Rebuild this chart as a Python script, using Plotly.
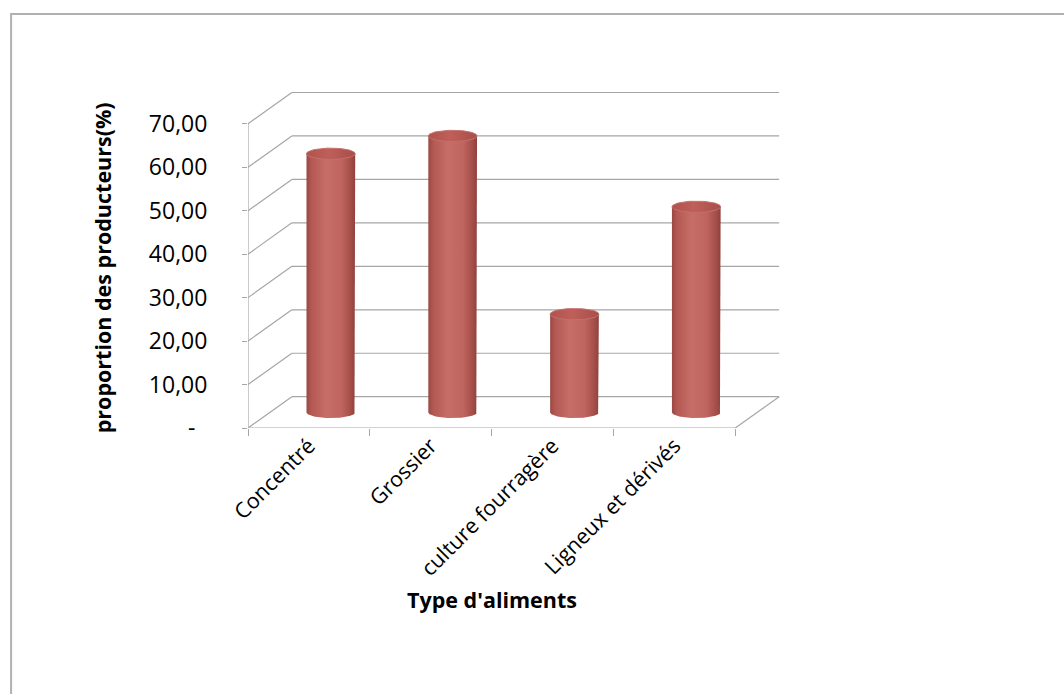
import numpy as np
import plotly.graph_objects as go

# Data
categories = ["Concentré", "Grossier", "culture fourragère", "Ligneux et dérivés"]
proportions = [59.5, 63.6, 22.6, 47.3]
y_ticks = [0, 10, 20, 30, 40, 50, 60, 70]
y_tick_labels = ["-\u00a0\u00a0", "10,00", "20,00", "30,00", "40,00", "50,00", "60,00", "70,00"]

# 3D-look geometry (axis units)
DX = 0.36      # depth shift along the category axis
DY = 7.2       # depth shift along the value axis
HALF_W = 0.2   # cylinder radius (category units)
RY = 1.3       # vertical semi-axis of the elliptical caps (value units)

FONT = "Open Sans"
GRID = dict(color="#a6a6a6", width=1.2)

shapes = []
# back wall gridlines and side wall lines
for v in y_ticks:
    shapes.append(dict(type="line", xref="x", yref="y", x0=-0.5 + DX, x1=3.5 + DX,
                       y0=v + DY, y1=v + DY, line=GRID, layer="below"))
    shapes.append(dict(type="line", xref="x", yref="y", x0=-0.5, x1=-0.5 + DX,
                       y0=v, y1=v + DY, line=GRID, layer="below"))
# floor right edge, front floor edge, front vertical edge
shapes.append(dict(type="line", xref="x", yref="y", x0=3.5, x1=3.5 + DX, y0=0, y1=DY,
                   line=GRID, layer="below"))
shapes.append(dict(type="line", xref="x", yref="y", x0=-0.5, x1=3.5, y0=0, y1=0,
                   line=GRID, layer="below"))
shapes.append(dict(type="line", xref="x", yref="y", x0=-0.5, x1=-0.5, y0=0, y1=70,
                   line=GRID, layer="below"))
# outer chart frame
shapes.append(dict(type="rect", xref="paper", yref="paper", x0=-0.442, x1=2.5, y0=-3, y1=1.221,
                   line=dict(color="#b0b0b0", width=2), layer="below"))

fig = go.Figure()

body_scale = [[0.0, "#9a4844"], [0.1, "#b35853"], [0.4, "#c76e69"],
              [0.72, "#bf645f"], [0.9, "#a64f4a"], [1.0, "#8f413d"]]
top_scale = [[0.0, "#b0524d"], [0.45, "#bf5f5a"], [1.0, "#a84e49"]]

t_front = np.linspace(0, np.pi, 40)
t_full = np.linspace(0, 2 * np.pi, 80)

for i, (cat, val) in enumerate(zip(categories, proportions)):
    cx = i + DX / 2
    yb = DY / 2
    yt = yb + val
    # cylinder body: straight sides plus front half of the base ellipse
    bx = [cx - HALF_W, cx - HALF_W, cx + HALF_W] + list(cx + HALF_W * np.cos(t_front))
    by = [yb, yt, yt] + list(yb - RY * np.sin(t_front))
    fig.add_trace(go.Scatter(
        x=bx, y=by, mode="lines", fill="toself", line=dict(width=0),
        fillgradient=dict(type="horizontal", colorscale=body_scale),
        name=cat, showlegend=False, hoverinfo="skip"))
    # top cap
    fig.add_trace(go.Scatter(
        x=list(cx + HALF_W * np.cos(t_full)), y=list(yt + RY * np.sin(t_full)),
        mode="lines", fill="toself", line=dict(width=1, color="#c4706b"),
        fillgradient=dict(type="horizontal", colorscale=top_scale),
        name=cat, showlegend=False, hovertemplate=f"{cat}: {val:.2f}<extra></extra>"))

annotations = [
    dict(text="<b>proportion des producteurs(%)</b>", xref="paper", yref="paper",
         x=-0.27, y=0.472, textangle=-90, showarrow=False,
         font=dict(family=FONT, size=21.5, color="#000000"), xanchor="center", yanchor="middle"),
    dict(text="<b>Type d'aliments</b>", xref="paper", yref="paper",
         x=0.455, y=-0.507, showarrow=False,
         font=dict(family=FONT, size=21.5, color="#000000"), xanchor="center", yanchor="middle"),
]

fig.update_layout(
    width=1064, height=694,
    margin=dict(l=248, r=280, t=89, b=266),
    paper_bgcolor="white", plot_bgcolor="white",
    showlegend=False,
    shapes=shapes,
    annotations=annotations,
    xaxis=dict(
        range=[-0.5, 3.5 + DX + 0.04], showgrid=False, zeroline=False, showline=False,
        tickmode="array", tickvals=list(range(len(categories))), ticktext=categories,
        ticks="", tickangle=-45, tickfont=dict(family=FONT, size=21.5, color="#000000"),
        minor=dict(tickmode="array", tickvals=[k - 0.5 for k in range(len(categories) + 1)],
                   ticks="outside", ticklen=7, tickcolor="#a6a6a6", tickwidth=1.2),
        fixedrange=True,
    ),
    yaxis=dict(
        range=[0, 78], showgrid=False, zeroline=False, showline=False,
        tickmode="array", tickvals=y_ticks, ticktext=y_tick_labels,
        ticks="outside", ticklen=5, tickcolor="#a6a6a6", tickwidth=1.2,
        ticklabelstandoff=30,
        tickfont=dict(family=FONT, size=23, color="#000000"),
        fixedrange=True,
    ),
)

fig.write_html("out.html")
